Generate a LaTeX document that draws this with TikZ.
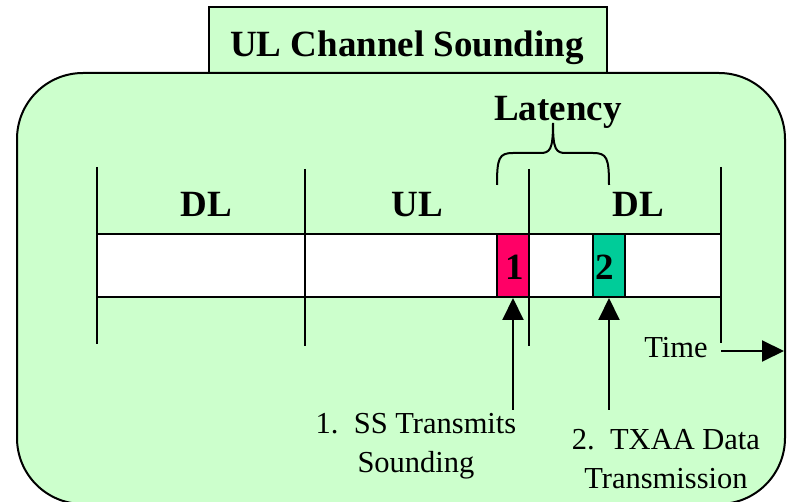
\documentclass[tikz,border=0pt]{standalone}
\usepackage{fontspec}
\setmainfont{Liberation Serif}
\usetikzlibrary{arrows.meta}
\definecolor{bggreen}{HTML}{CCFFCC}
\definecolor{slotred}{HTML}{FF0066}
\definecolor{slotteal}{HTML}{00CC99}
\tikzset{
  ln/.style={line width=2pt, draw=black},
  bigbold/.style={font=\fontsize{37}{44}\selectfont\bfseries, inner sep=0pt, anchor=base},
  lbl/.style={font=\fontsize{30.5}{39}\selectfont, inner sep=0pt, align=center},
  arr/.style={line width=2pt, -{Triangle[length=22pt,width=21pt]}},
}
\begin{document}
\begin{tikzpicture}[x=1pt,y=-1pt]
\useasboundingbox (0,0) rectangle (804,502);
% title box and frame
\draw[ln, fill=bggreen] (209,7) rectangle (607,73);
\draw[ln, fill=bggreen, rounded corners=66pt] (17,73) rectangle (785,504);
\node[bigbold] (title) at (407,57) {UL Channel Sounding};
% bar
\draw[ln, fill=white] (97,234) rectangle (721,297);
\node[ln, fill=slotred, minimum width=32pt, minimum height=63pt, inner sep=0pt] (s1) at (513,265.5) {};
\node[ln, fill=slotteal, minimum width=32pt, minimum height=63pt, inner sep=0pt] (s2) at (609,265.5) {};
\node[bigbold] (n1) at (515,280) {1};
\node[bigbold] (n2) at (605,280) {2};
% vertical separators
\coordinate (v1t) at (97,167);  \coordinate (v1b) at (97,344);
\coordinate (v2t) at (305,169); \coordinate (v2b) at (305,346);
\coordinate (v3t) at (529,169); \coordinate (v3b) at (529,346);
\coordinate (v4t) at (721,167); \coordinate (v4b) at (721,343);
\draw[ln] (v1t) -- (v1b);
\draw[ln] (v2t) -- (v2b);
\draw[ln] (v3t) -- (v3b);
\draw[ln] (v4t) -- (v4b);
% section labels
\node[bigbold] (dl1) at (206,217) {DL};
\node[bigbold] (ul) at (417,217) {UL};
\node[bigbold] (dl2) at (638,217) {DL};
% latency brace
\node[bigbold] (lat) at (558,121) {Latency};
\draw[ln] (497,185) .. controls (497,158) and (499,153) .. (513,153) -- (540,153)
  .. controls (550,153) and (553,150) .. (553,123)
  .. controls (553,150) and (556,153) .. (566,153) -- (593,153)
  .. controls (607,153) and (609,158) .. (609,185);
% time arrow
\node[lbl, anchor=base] (time) at (676,358) {Time};
\coordinate (ts) at (721,351);
\coordinate (te) at (784,351);
\draw[arr] (ts) -- (te);
% event labels and arrows
\node[lbl, anchor=base] (e1) at (416,473) {1.\ \ SS Transmits\\Sounding};
\node[lbl, anchor=base] (e2) at (666,489) {2.\ \ TXAA Data\\Transmission};
\coordinate (a1) at (513,410);
\coordinate (a2) at (609,410);
\draw[arr] (a1) -- (s1.south);
\draw[arr] (a2) -- (s2.south);
\end{tikzpicture}
\end{document}
